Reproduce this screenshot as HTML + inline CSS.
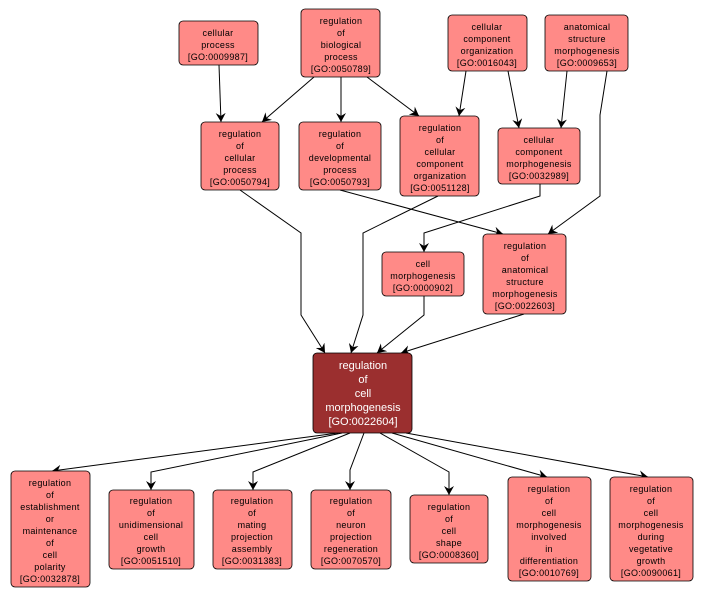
<!DOCTYPE html>
<html><head><meta charset="utf-8"><style>
body{margin:0;background:#fff;width:702px;height:598px;overflow:hidden}
svg text{font-family:"Liberation Sans",sans-serif;font-size:9px;text-anchor:middle;fill:#000;letter-spacing:0.3px}
</style></head><body>
<svg width="702" height="598" viewBox="0 0 702 598" xmlns="http://www.w3.org/2000/svg">
<defs><marker id="a" markerWidth="10" markerHeight="10" refX="9" refY="5" orient="auto" markerUnits="userSpaceOnUse"><path d="M0,0 L9,5 L0,10 L3,5 Z" fill="#000"/></marker></defs>
<g fill="none" stroke="#000" stroke-width="1" marker-end="url(#a)">
<polyline points="219,65 221,122"/>
<polyline points="314,77 262,122"/>
<polyline points="341,77 341,122"/>
<polyline points="367,77 419,116"/>
<polyline points="466,71 459,116"/>
<polyline points="508,71 519,128"/>
<polyline points="567,71 561,128"/>
<polyline points="607,71 600,115 600,196 548,234"/>
<polyline points="240,190 301,233 301,315 325,353"/>
<polyline points="438,196 363,233 363,315 351,353"/>
<polyline points="340,190 503,234"/>
<polyline points="540,184 540,196 424,233 424,252"/>
<polyline points="424,296 424,315 377,353"/>
<polyline points="524,314 401,353"/>
<polyline points="338,433 52,471"/>
<polyline points="342,433 151,472 151,490"/>
<polyline points="350,433 253,472 253,490"/>
<polyline points="364,433 350,470 350,490"/>
<polyline points="380,433 449,472 449,495"/>
<polyline points="392,433 547,477"/>
<polyline points="406,433 648,477"/>
</g>
<g fill="#ff8a87" stroke="#000" stroke-width="0.8">
<rect x="179" y="21" width="79" height="44" rx="4"/>
<rect x="301" y="9" width="79" height="68" rx="4"/>
<rect x="448" y="15" width="79" height="56" rx="4"/>
<rect x="545" y="15" width="83" height="56" rx="4"/>
<rect x="201" y="122" width="78" height="68" rx="4"/>
<rect x="299" y="122" width="82" height="68" rx="4"/>
<rect x="400" y="116" width="79" height="80" rx="4"/>
<rect x="498" y="128" width="82" height="56" rx="4"/>
<rect x="382" y="252" width="82" height="44" rx="4"/>
<rect x="483" y="234" width="83" height="80" rx="4"/>
<rect x="11" y="471" width="79" height="116" rx="4"/>
<rect x="109" y="490" width="85" height="79" rx="4"/>
<rect x="213" y="490" width="79" height="79" rx="4"/>
<rect x="311" y="490" width="80" height="79" rx="4"/>
<rect x="410" y="495" width="78" height="68" rx="4"/>
<rect x="508" y="477" width="83" height="104" rx="4"/>
<rect x="610" y="477" width="83" height="104" rx="4"/>
</g>
<rect x="313" y="353" width="99" height="80" rx="4" fill="#9b2f2f" stroke="#000" stroke-width="0.8"/>
<text x="218" y="36">cellular</text><text x="218" y="48">process</text><text x="218" y="60">[GO:0009987]</text>
<text x="341" y="24">regulation</text><text x="341" y="36">of</text><text x="341" y="48">biological</text><text x="341" y="60">process</text><text x="341" y="72">[GO:0050789]</text>
<text x="487" y="30">cellular</text><text x="487" y="42">component</text><text x="487" y="54">organization</text><text x="487" y="66">[GO:0016043]</text>
<text x="587" y="30">anatomical</text><text x="587" y="42">structure</text><text x="587" y="54">morphogenesis</text><text x="587" y="66">[GO:0009653]</text>
<text x="240" y="137">regulation</text><text x="240" y="149">of</text><text x="240" y="161">cellular</text><text x="240" y="173">process</text><text x="240" y="185">[GO:0050794]</text>
<text x="340" y="137">regulation</text><text x="340" y="149">of</text><text x="340" y="161">developmental</text><text x="340" y="173">process</text><text x="340" y="185">[GO:0050793]</text>
<text x="440" y="131">regulation</text><text x="440" y="143">of</text><text x="440" y="155">cellular</text><text x="440" y="167">component</text><text x="440" y="179">organization</text><text x="440" y="191">[GO:0051128]</text>
<text x="539" y="143">cellular</text><text x="539" y="155">component</text><text x="539" y="167">morphogenesis</text><text x="539" y="179">[GO:0032989]</text>
<text x="423" y="267">cell</text><text x="423" y="279">morphogenesis</text><text x="423" y="291">[GO:0000902]</text>
<text x="525" y="249">regulation</text><text x="525" y="261">of</text><text x="525" y="273">anatomical</text><text x="525" y="285">structure</text><text x="525" y="297">morphogenesis</text><text x="525" y="309">[GO:0022603]</text>
<g><text x="363" y="369" style="fill:#fff;font-size:11px;letter-spacing:0">regulation</text><text x="363" y="383" style="fill:#fff;font-size:11px;letter-spacing:0">of</text><text x="363" y="397" style="fill:#fff;font-size:11px;letter-spacing:0">cell</text><text x="363" y="411" style="fill:#fff;font-size:11px;letter-spacing:0">morphogenesis</text><text x="363" y="425" style="fill:#fff;font-size:11px;letter-spacing:0">[GO:0022604]</text></g>
<text x="50" y="486">regulation</text><text x="50" y="498">of</text><text x="50" y="510">establishment</text><text x="50" y="522">or</text><text x="50" y="534">maintenance</text><text x="50" y="546">of</text><text x="50" y="558">cell</text><text x="50" y="570">polarity</text><text x="50" y="582">[GO:0032878]</text>
<text x="151" y="504">regulation</text><text x="151" y="516">of</text><text x="151" y="528">unidimensional</text><text x="151" y="540">cell</text><text x="151" y="552">growth</text><text x="151" y="564">[GO:0051510]</text>
<text x="252" y="504">regulation</text><text x="252" y="516">of</text><text x="252" y="528">mating</text><text x="252" y="540">projection</text><text x="252" y="552">assembly</text><text x="252" y="564">[GO:0031383]</text>
<text x="351" y="504">regulation</text><text x="351" y="516">of</text><text x="351" y="528">neuron</text><text x="351" y="540">projection</text><text x="351" y="552">regeneration</text><text x="351" y="564">[GO:0070570]</text>
<text x="449" y="510">regulation</text><text x="449" y="522">of</text><text x="449" y="534">cell</text><text x="449" y="546">shape</text><text x="449" y="558">[GO:0008360]</text>
<text x="549" y="492">regulation</text><text x="549" y="504">of</text><text x="549" y="516">cell</text><text x="549" y="528">morphogenesis</text><text x="549" y="540">involved</text><text x="549" y="552">in</text><text x="549" y="564">differentiation</text><text x="549" y="576">[GO:0010769]</text>
<text x="651" y="492">regulation</text><text x="651" y="504">of</text><text x="651" y="516">cell</text><text x="651" y="528">morphogenesis</text><text x="651" y="540">during</text><text x="651" y="552">vegetative</text><text x="651" y="564">growth</text><text x="651" y="576">[GO:0090061]</text>
</svg>
</body></html>
